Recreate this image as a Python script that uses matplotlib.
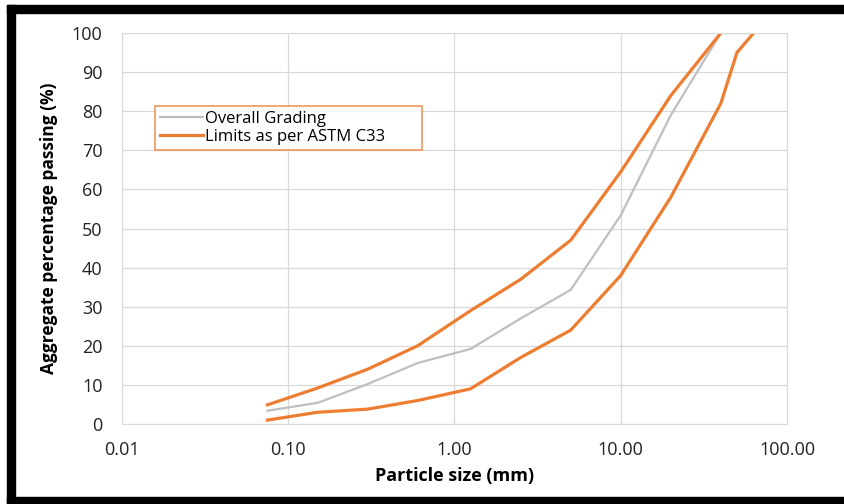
import matplotlib
matplotlib.use("Agg")
import matplotlib.pyplot as plt
from matplotlib.patches import Rectangle
from matplotlib.ticker import FixedLocator, NullLocator

plt.rcParams['font.family'] = ['Open Sans', 'DejaVu Sans']

# sieve sizes (mm) and percent passing
sizes = [0.075, 0.15, 0.3, 0.6, 1.25, 2.5, 5, 10, 20, 40, 50, 63]
overall = [3.4, 5.4, 10.2, 15.6, 19.2, 27, 34.3, 53.4, 79, 100, 100, 100]
lower = [1.0, 3.0, 3.8, 6.0, 9.0, 17, 24, 38, 58, 82, 95, 100]
upper_sizes = [0.075, 0.15, 0.3, 0.6, 1.25, 2.5, 5, 10, 20, 40]
upper = [4.9, 9.2, 14, 20, 29, 37, 47, 64.5, 84, 100]

xticks = [0.01, 0.1, 1, 10, 100]
xlabels = ["0.01", "0.10", "1.00", "10.00", "100.00"]

fig = plt.figure(figsize=(8.45, 5.04), dpi=100)
ax = fig.add_axes([122 / 845, 1 - 424 / 504, 665 / 845, 391 / 504])

ax.plot(sizes, overall, color="#BFBFBF", lw=1.6, label="Overall Grading")
ax.plot(sizes, lower, color="#ED7D31", lw=2.3, label="Limits as per ASTM C33")
ax.plot(upper_sizes, upper, color="#ED7D31", lw=2.3)

ax.set_xscale("log")
ax.set_xlim(0.01, 100)
ax.set_ylim(0, 100)
ax.xaxis.set_major_locator(FixedLocator(xticks))
ax.xaxis.set_minor_locator(NullLocator())
ax.set_xticklabels(xlabels)
ax.set_yticks(range(0, 101, 10))
ax.tick_params(length=0, labelsize=13, colors="#222222")
ax.tick_params(axis="x", pad=12)
ax.tick_params(axis="y", pad=14)
ax.grid(True, color="#D9D9D9", lw=0.9)
for s in ax.spines.values():
    s.set_color("#D9D9D9")

ax.set_xlabel("Particle size (mm)", fontsize=13, fontweight="bold", labelpad=6)
ax.set_ylabel("Aggregate percentage passing (%)", fontsize=12.5, fontweight="bold", labelpad=10)

leg = ax.legend(loc="upper left",
                bbox_to_anchor=((155 - 122) / 665, (424 - 154) / 391, 267 / 665, 48 / 391),
                mode="expand", fontsize=12, frameon=True, fancybox=False, handlelength=2.6,
                handletextpad=0.1, borderpad=0.3, labelspacing=0.1, borderaxespad=0)
leg.get_frame().set_edgecolor("#ED7D31")
leg.get_frame().set_linewidth(1.2)

# black frame of the screenshot
fig.patches.append(Rectangle((7 / 845, 0), 8 / 845, 1 - 5 / 504, transform=fig.transFigure, color="black"))
fig.patches.append(Rectangle((7 / 845, 1 - 13 / 504), 1, 8 / 504, transform=fig.transFigure, color="black"))
fig.patches.append(Rectangle((7 / 845, 0), 1, 7 / 504, transform=fig.transFigure, color="black"))

fig.savefig("out.png", dpi=100)
